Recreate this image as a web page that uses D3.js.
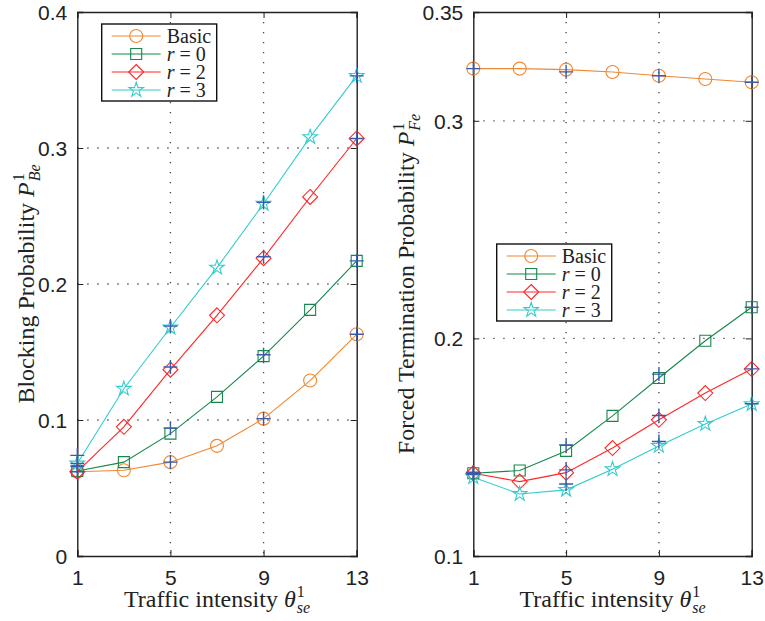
<!DOCTYPE html>
<html>
<head>
<meta charset="utf-8">
<script src="https://cdn.jsdelivr.net/npm/d3@7"></script>
<style>
  body { margin: 0; background: #fff; }
  svg { display: block; }
  .tick text { font-family: "Liberation Sans", Arial, sans-serif; font-size: 21px; fill: #222; }
  .title { font-family: "Liberation Serif", "Times New Roman", serif; font-size: 24px; fill: #222; }
  .leg { font-family: "Liberation Serif", "Times New Roman", serif; font-size: 20px; fill: #222; }
</style>
</head>
<body>
<div id="chart"></div>
<script>
// x values of the analytic curves and of the simulation points
const xVals = [1, 3, 5, 7, 9, 11, 13];
const simX = [1, 5, 9, 13];
const xTicks = [1, 5, 9, 13];

const seriesNames = ["Basic", "r = 0", "r = 2", "r = 3"];

// Left panel: blocking probability
const blockBasic = [0.062, 0.063, 0.069, 0.081, 0.101, 0.129, 0.163];
const blockR0 = [0.0625, 0.069, 0.090, 0.117, 0.147, 0.181, 0.217];
const blockR2 = [0.062, 0.095, 0.137, 0.177, 0.219, 0.264, 0.307];
const blockR3 = [0.068, 0.123, 0.168, 0.212, 0.259, 0.308, 0.353];
const simBlockBasic = [0.062, 0.069, 0.101, 0.163];
const simBlockR0 = [0.066, 0.094, 0.148, 0.217];
const simBlockR2 = [0.068, 0.139, 0.220, 0.307];
const simBlockR3 = [0.074, 0.169, 0.260, 0.353];
const blockTicks = [0, 0.1, 0.2, 0.3, 0.4];

// Right panel: forced termination probability
const ftBasic = [0.324, 0.324, 0.3235, 0.3224, 0.3207, 0.3192, 0.3177];
const ftR0 = [0.138, 0.1393, 0.1483, 0.1644, 0.1818, 0.1989, 0.2143];
const ftR2 = [0.138, 0.1342, 0.1383, 0.1496, 0.1626, 0.1749, 0.1859];
const ftR3 = [0.1362, 0.1285, 0.1304, 0.1399, 0.1506, 0.1607, 0.1698];
const simFtBasic = [0.324, 0.3225, 0.3207, 0.3177];
const simFtR0 = [0.1385, 0.151, 0.1836, 0.2143];
const simFtR2 = [0.138, 0.1396, 0.1646, 0.186];
const simFtR3 = [0.1375, 0.1331, 0.1526, 0.170];
const ftTicks = [0.1, 0.2, 0.3, 0.35];

const colors = ["#EE8833", "#16874A", "#FF2626", "#33CCCC"];
const simColor = "#3A5BAA";
const shapes = ["circle", "square", "diamond", "star"];

const svg = d3.select("#chart").append("svg")
    .attr("width", 765)
    .attr("height", 621);

// marker path centred on 0,0
function markerPath(shape) {
    if (shape === "circle") return d3.symbol(d3.symbolCircle, Math.PI * 6.5 * 6.5)();
    if (shape === "square") return d3.symbol(d3.symbolSquare, 121)();
    if (shape === "star") return d3.symbol(d3.symbolStar, 66)();
    if (shape === "diamond") { let r = 7.5; return `M0,${-r}L${r},0L0,${r}L${-r},0Z`; }
    let h = 7; // plus
    return `M${-h},0L${h},0M0,${-h}L0,${h}`;
}

function drawPanel(opt) {
    let x = d3.scaleLinear().domain([1, 13]).range([opt.left, opt.right]);
    let y = d3.scaleLinear().domain(opt.yDomain).range([opt.bottom, opt.top]);
    let g = svg.append("g");

    // dotted grid
    g.selectAll(".gx").data(xTicks.slice(1, -1)).enter().append("line")
        .attr("x1", d => x(d)).attr("x2", d => x(d))
        .attr("y1", opt.top).attr("y2", opt.bottom)
        .attr("stroke", "#444").attr("stroke-width", 1.3).attr("stroke-dasharray", "1.3,8.7");
    g.selectAll(".gy").data(opt.yTicks.filter(d => d > opt.yDomain[0] && d < opt.yDomain[1])).enter().append("line")
        .attr("x1", opt.left).attr("x2", opt.right)
        .attr("y1", d => y(d)).attr("y2", d => y(d))
        .attr("stroke", "#444").attr("stroke-width", 1.3).attr("stroke-dasharray", "1.3,8.7");

    // axes, ticks pointing inward on all four sides
    let fmt = d => String(d);
    let ax = g.append("g").attr("transform", `translate(0,${opt.bottom})`)
        .call(d3.axisBottom(x).tickValues(xTicks).tickSize(-6).tickPadding(14).tickFormat(fmt));
    let ax2 = g.append("g").attr("transform", `translate(0,${opt.top})`)
        .call(d3.axisTop(x).tickValues(xTicks).tickSize(-6).tickFormat(""));
    let ay = g.append("g").attr("transform", `translate(${opt.left},0)`)
        .call(d3.axisLeft(y).tickValues(opt.yTicks).tickSize(-6).tickPadding(10).tickFormat(fmt));
    let ay2 = g.append("g").attr("transform", `translate(${opt.right},0)`)
        .call(d3.axisRight(y).tickValues(opt.yTicks).tickSize(-6).tickFormat(""));
    [ax, ax2, ay, ay2].forEach(a => {
        a.select(".domain").attr("stroke", "#222").attr("stroke-width", 1.4);
        a.selectAll(".tick line").attr("stroke", "#222").attr("stroke-width", 1);
    });
    ay.selectAll(".tick text").attr("dy", "0.36em");

    // curves
    let line = d3.line().x((d, i) => x(xVals[i])).y(d => y(d));
    opt.series.forEach((vals, k) => {
        g.append("path").datum(vals)
            .attr("d", line)
            .attr("fill", "none")
            .attr("stroke", colors[k])
            .attr("stroke-width", 1.1);
    });
    opt.series.forEach((vals, k) => {
        g.selectAll(null).data(vals).enter().append("path")
            .attr("transform", (d, i) => `translate(${x(xVals[i])},${y(d)})`)
            .attr("d", markerPath(shapes[k]))
            .attr("fill", "none")
            .attr("stroke", colors[k])
            .attr("stroke-width", 1.1);
    });
    // simulation points
    opt.sims.forEach(vals => {
        g.selectAll(null).data(vals).enter().append("path")
            .attr("transform", (d, i) => `translate(${x(simX[i])},${y(d)})`)
            .attr("d", markerPath("plus"))
            .attr("fill", "none")
            .attr("stroke", simColor)
            .attr("stroke-width", 1.4);
    });

    // x title
    let xt = g.append("text").attr("class", "title")
        .attr("x", (opt.left + opt.right) / 2).attr("y", 607)
        .attr("text-anchor", "middle");
    xt.append("tspan").text("Traffic intensity ");
    xt.append("tspan").attr("font-style", "italic").text("θ");
    xt.append("tspan").attr("font-size", 16).attr("dy", -10).attr("dx", 1).text("1");
    xt.append("tspan").attr("font-size", 16).attr("font-style", "italic").attr("dy", 16).attr("dx", -8).text("se");

    // y title
    let yt = g.append("text").attr("class", "title")
        .attr("transform", `translate(${opt.yTitleX},${(opt.top + opt.bottom) / 2}) rotate(-90)`)
        .attr("text-anchor", "middle");
    yt.append("tspan").text(opt.yTitle + " ");
    yt.append("tspan").attr("font-style", "italic").text("P");
    yt.append("tspan").attr("font-size", 16).attr("dy", -10).attr("dx", 1).text("1");
    yt.append("tspan").attr("font-size", 16).attr("font-style", "italic").attr("dy", 16).attr("dx", -8).text(opt.sub);

    // legend
    let lg = g.append("g").attr("transform", `translate(${opt.legX},${opt.legY})`);
    lg.append("rect").attr("width", 115).attr("height", 77)
        .attr("fill", "#fff").attr("stroke", "#111").attr("stroke-width", 1.4);
    seriesNames.forEach((name, k) => {
        let row = lg.append("g").attr("transform", `translate(0,${12 + k * 18})`);
        row.append("line").attr("x1", 10).attr("x2", 59)
            .attr("stroke", colors[k]).attr("stroke-width", 1.1);
        row.append("path").attr("transform", "translate(34.5,0)")
            .attr("d", markerPath(shapes[k]))
            .attr("fill", "none").attr("stroke", colors[k]).attr("stroke-width", 1.1);
        let t = row.append("text").attr("class", "leg").attr("x", 65).attr("y", 7);
        if (k === 0) {
            t.text(name);
        } else {
            let parts = name.split(" ");
            t.append("tspan").attr("font-style", "italic").text(parts[0]);
            t.append("tspan").text(" " + parts[1] + " " + parts[2]);
        }
    });
}

drawPanel({
    left: 77.3, right: 356.7, top: 12, bottom: 556,
    yDomain: [0, 0.4], yTicks: blockTicks,
    series: [blockBasic, blockR0, blockR2, blockR3],
    sims: [simBlockBasic, simBlockR0, simBlockR2, simBlockR3],
    yTitle: "Blocking Probability", sub: "Be", yTitleX: 34,
    legX: 101.7, legY: 24
});

drawPanel({
    left: 473.3, right: 751.7, top: 12, bottom: 556,
    yDomain: [0.1, 0.35], yTicks: ftTicks,
    series: [ftBasic, ftR0, ftR2, ftR3],
    sims: [simFtBasic, simFtR0, simFtR2, simFtR3],
    yTitle: "Forced Termination Probability", sub: "Fe", yTitleX: 414,
    legX: 496.7, legY: 244
});
</script>
</body>
</html>
